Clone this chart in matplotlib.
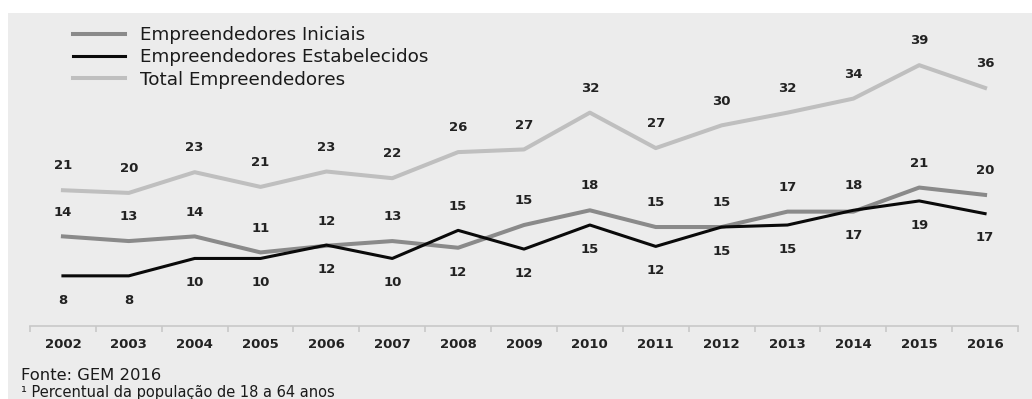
import matplotlib
matplotlib.use("Agg")
import matplotlib.pyplot as plt
from matplotlib.patches import Rectangle

years = [2002, 2003, 2004, 2005, 2006, 2007, 2008, 2009, 2010, 2011, 2012, 2013, 2014, 2015, 2016]
iniciais = [13.7, 13.0, 13.7, 11.3, 12.3, 13.0, 12.0, 15.4, 17.6, 15.1, 15.1, 17.4, 17.4, 21.0, 19.9]
estabelecidos = [7.8, 7.8, 10.4, 10.4, 12.4, 10.4, 14.6, 11.8, 15.4, 12.2, 15.1, 15.4, 17.6, 19.0, 17.1]
total = [20.6, 20.2, 23.3, 21.1, 23.4, 22.4, 26.3, 26.7, 32.2, 26.9, 30.3, 32.2, 34.3, 39.3, 35.9]
series_names = ["Empreendedores Iniciais", "Empreendedores Estabelecidos", "Total Empreendedores"]
source_text = "Fonte: GEM 2016"
note_text = "\u00b9 Percentual da popula\u00e7\u00e3o de 18 a 64 anos"

W, H = 1032, 399
dpi = 100
fig = plt.figure(figsize=(W / dpi, H / dpi), dpi=dpi)
fig.patch.set_facecolor("white")
bg = "#ececec"
fig.add_artist(Rectangle((8 / W, 0), 1 - 8 / W, 1 - 13 / H, transform=fig.transFigure,
                         facecolor=bg, edgecolor="none", zorder=0))

left, right = 30, 1018
top, bottom = 13, 326
ax = fig.add_axes([left / W, (H - bottom) / H, (right - left) / W, (bottom - top) / H])
ax.patch.set_visible(False)

c_ini = "#8a8a8a"
c_est = "#0a0a0a"
c_tot = "#bfbfbf"

ax.plot(years, total, color=c_tot, lw=2.9, label=series_names[2], zorder=2)
ax.plot(years, iniciais, color=c_ini, lw=2.9, label=series_names[0], zorder=3)
ax.plot(years, estabelecidos, color=c_est, lw=2.2, label=series_names[1], zorder=4)

ax.set_xlim(2001.5, 2016.5)
ax.set_ylim(0.3, 47.1)

lab_kw = dict(fontsize=9.5, color="#222222", ha="center", va="center", fontweight="semibold",
              textcoords="offset points")
off = 17.5
for x, t in zip(years, total):
    ax.annotate(str(round(t)), (x, t), xytext=(0, off), **lab_kw)
for x, a, b in zip(years, iniciais, estabelecidos):
    a_up = a > b if round(a) != round(b) else True
    ax.annotate(str(round(a)), (x, a), xytext=(0, off if a_up else -off), **lab_kw)
    ax.annotate(str(round(b)), (x, b), xytext=(0, -off if a_up else off), **lab_kw)

for s in ["top", "right", "left"]:
    ax.spines[s].set_visible(False)
ax.spines["bottom"].set_color("#c8c8c8")
ax.spines["bottom"].set_linewidth(1.2)
ax.set_yticks([])
ax.set_xticks([y + 0.5 for y in [2001] + years])
ax.set_xticklabels([])
ax.set_xticks(years, minor=True)
ax.set_xticklabels([str(y) for y in years], minor=True)
ax.tick_params(axis="x", which="major", length=4, color="#c8c8c8", width=1.2)
ax.tick_params(axis="x", which="minor", length=0, pad=9, labelsize=9.5, labelcolor="#222222")
for lbl in ax.get_xticklabels(minor=True):
    lbl.set_fontweight("semibold")

handles, labels = ax.get_legend_handles_labels()
order = [1, 2, 0]
leg = ax.legend([handles[i] for i in order], [labels[i] for i in order],
                loc="upper left", bbox_to_anchor=(73 / W, 1 - 26 / H), bbox_transform=fig.transFigure,
                frameon=False, fontsize=13.2, handlelength=2.85, handletextpad=0.82,
                labelspacing=0.24, borderpad=0, borderaxespad=0)
for t in leg.get_texts():
    t.set_color("#1a1a1a")

fig.text(21 / W, 1 - 376 / H, source_text, fontsize=11.8, color="#1a1a1a", va="center", ha="left")
fig.text(21 / W, 1 - 392 / H, note_text, fontsize=10.5, color="#1a1a1a", va="center", ha="left")

fig.savefig("out.png", dpi=dpi)
